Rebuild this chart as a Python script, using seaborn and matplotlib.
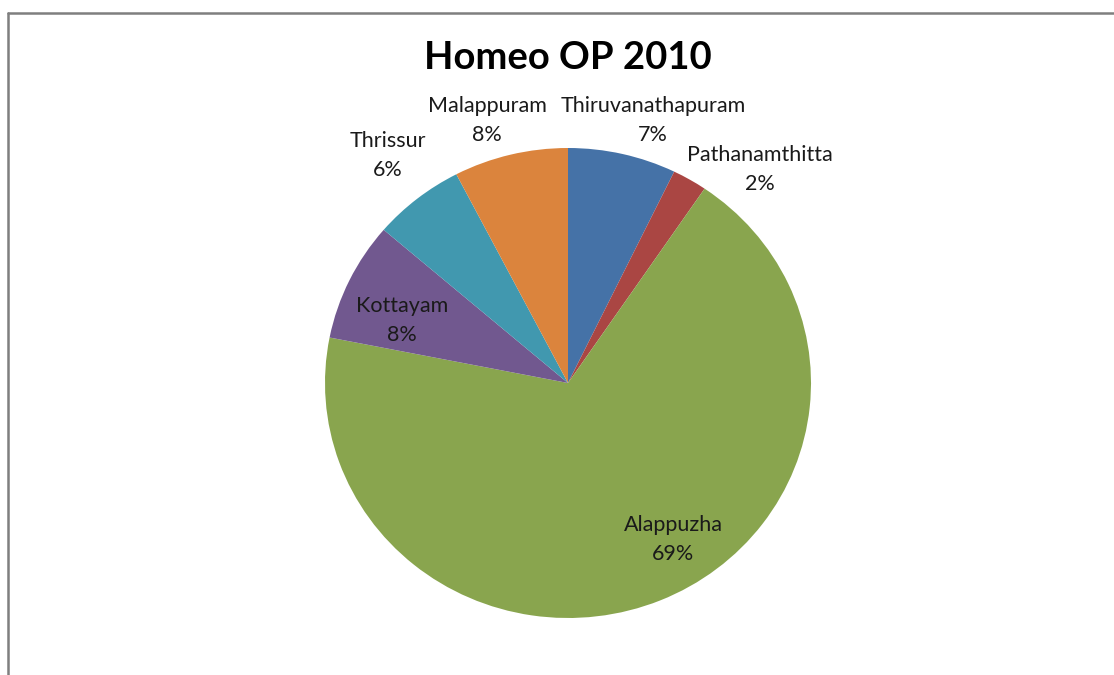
import matplotlib
matplotlib.use('Agg')
import matplotlib.pyplot as plt
import seaborn as sns
from matplotlib.lines import Line2D

# --- data (share of OP cases, %) ---
districts = ['Thiruvanathapuram', 'Pathanamthitta', 'Alappuzha',
             'Kottayam', 'Thrissur', 'Malappuram']
shares = [7.2, 2.3, 68.6, 8.2, 6.1, 7.6]
pct_labels = ['7%', '2%', '69%', '8%', '6%', '8%']
colors = ['#4572A7', '#AA4643', '#89A54E', '#71588F', '#4198AF', '#DB843D']

sns.set_theme(style='white')
plt.rcParams['font.family'] = ['Lato', 'DejaVu Sans']

W, H = 1114, 675
fig = plt.figure(figsize=(W / 100, H / 100), dpi=100)

# pie centre (568, 383) px, radii 243 x 235 px
cx, cy, rx, ry = 568, 383, 243, 235
ax = fig.add_axes([(cx - rx) / W, (H - cy - ry) / H, 2 * rx / W, 2 * ry / H])
ax.pie(shares, colors=sns.color_palette(colors), startangle=90,
       counterclock=False, radius=1, wedgeprops=dict(linewidth=0))
ax.set_xlim(-1, 1)
ax.set_ylim(-1, 1)
ax.set_aspect('auto')
ax.axis('off')

# label positions in pixels (name line, pct line below)
label_pos = [(653, 106), (760, 155), (673, 525), (402, 306), (388, 141), (487, 106)]
for name, pct, (x, y) in zip(districts, pct_labels, label_pos):
    fig.text(x / W, 1 - y / H, name, ha='center', va='center',
             fontsize=15.5, color='#1a1a1a')
    fig.text(x / W, 1 - (y + 29) / H, pct, ha='center', va='center',
             fontsize=15.5, color='#1a1a1a')

fig.text(568 / W, 1 - 58 / H, 'Homeo OP 2010', ha='center', va='center',
         fontsize=27.5, fontweight='bold', color='black')

# chart-area frame (only top and left edges visible)
fig.add_artist(Line2D([8 / W, 1.0], [1 - 13 / H, 1 - 13 / H], color='#7f7f7f', lw=1.8))
fig.add_artist(Line2D([8 / W, 8 / W], [0.0, 1 - 13 / H], color='#7f7f7f', lw=1.8))

fig.savefig('out.png', dpi=100)
